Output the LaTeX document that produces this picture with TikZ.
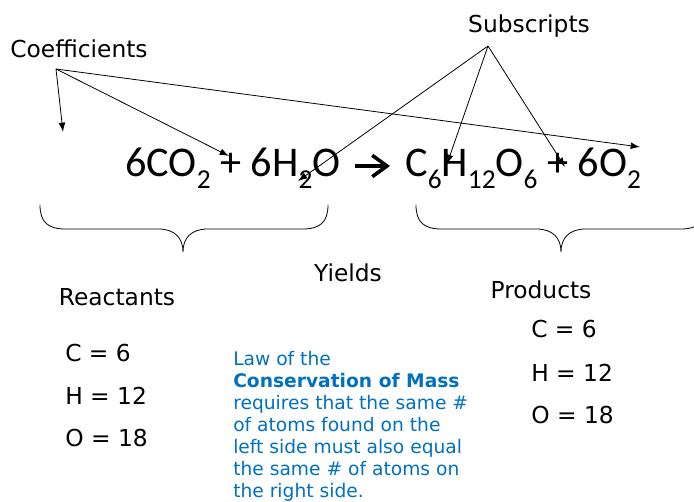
\documentclass[tikz,border=0pt]{standalone}
\usepackage{fontspec}
\setmainfont{DejaVu Sans}
\newfontfamily\eqfont{Carlito}
\usetikzlibrary{arrows.meta}
\definecolor{cBlue}{HTML}{0070C0}
\newcommand{\chsub}[1]{\raisebox{-0.27em}{\fontsize{20.5}{20.5}\selectfont #1}}

\begin{document}
\begin{tikzpicture}[x=0.75pt,y=-0.75pt,
      lbl/.style={inner sep=0pt,font=\fontsize{17.5}{17.5}\selectfont},
      cnt/.style={inner sep=0pt,anchor=base west,font=\fontsize{17.5}{17.5}\selectfont},
      eqn/.style={inner sep=0pt,anchor=base west,font=\eqfont\fontsize{31.7}{31.7}\selectfont},
      ptr/.style={-{Latex[length=7pt,width=5pt]},line width=0.6pt},
      brc/.style={line width=0.6pt},
      law/.style={inner sep=0pt,anchor=north west,align=left,text=cBlue,
                  font=\fontsize{14}{16.5}\selectfont}]
    \useasboundingbox (0,0) rectangle (694,502);
    \node[lbl] (coeff) at (79,49) {Coefficients};
    \node[lbl] (subs) at (529,26) {Subscripts};
    \node[eqn] (reac) at (125,177) {6CO\chsub{2} + 6H\chsub{2}O};
    \node[eqn] (prod) at (405,177) {C\chsub{6}H\chsub{12}O\chsub{6} + 6O\chsub{2}};
    \coordinate (ya) at (355,166);
    \coordinate (yb) at (390,166);
    \draw[line width=2.7pt,-{Straight Barb[length=11pt,width=16pt,line width=2.7pt]}] (ya) -- (yb);
    \coordinate (cf) at (56,69);
    \coordinate (c1) at (63,132);
    \coordinate (c2) at (229,156);
    \coordinate (c3) at (640,147);
    \draw[ptr] (cf) -- (c1);
    \draw[ptr] (cf) -- (c2);
    \draw[ptr] (cf) -- (c3);
    \coordinate (sb) at (488,46);
    \coordinate (s1) at (298,181);
    \coordinate (s2) at (447,164);
    \coordinate (s3) at (565,167);
    \draw[ptr] (sb) -- (s1);
    \draw[ptr] (sb) -- (s2);
    \draw[ptr] (sb) -- (s3);
    \draw[brc] (40,205) .. controls (40,222) and (48,229) .. (65,229) -- (158,229)
      .. controls (175,229) and (183,238) .. (183,252)
      .. controls (183,238) and (191,229) .. (208,229) -- (303,229)
      .. controls (320,229) and (328,222) .. (328,205);
    \draw[brc] (416,205) .. controls (416,222) and (424,229) .. (441,229) -- (536,229)
      .. controls (553,229) and (561,238) .. (561,252)
      .. controls (561,238) and (569,229) .. (586,229) -- (681,229)
      .. controls (698,229) and (706,222) .. (706,205);
    \node[lbl] (yld) at (348,273) {Yields};
    \node[lbl] (rct) at (117,297) {Reactants};
    \node[lbl] (prd) at (541,290) {Products};
    \node[cnt] (rc) at (65,362) {C = 6};
    \node[cnt] (rh) at (65,405) {H = 12};
    \node[cnt] (ro) at (65,447) {O = 18};
    \node[cnt] (pc) at (531,338) {C = 6};
    \node[cnt] (ph) at (531,382) {H = 12};
    \node[cnt] (po) at (531,424) {O = 18};
    \node[law] (mass) at (233,351) {Law of the\\ \textbf{Conservation of Mass}\\
      requires that the same \#\\ of atoms found on the\\ left side must also equal\\
      the same \# of atoms on\\ the right side.};
  \end{tikzpicture}
\end{document}
